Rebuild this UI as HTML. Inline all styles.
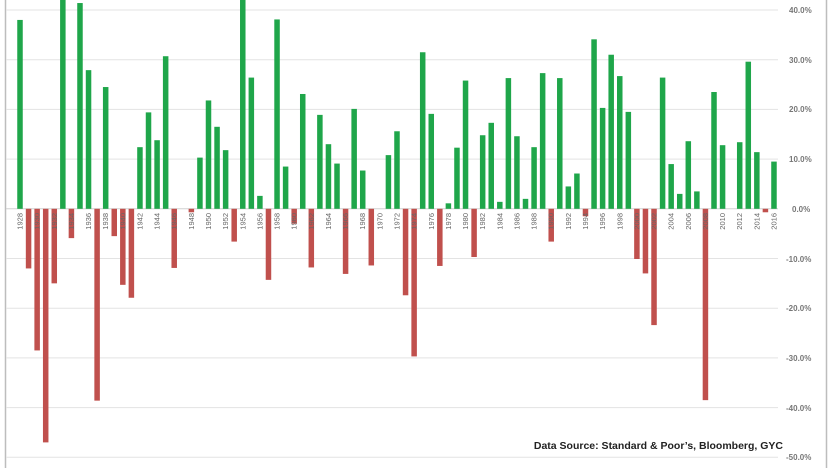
<!DOCTYPE html>
<html><head><style>
body{margin:0;background:#fff;}
svg{display:block;font-family:"Liberation Sans",sans-serif;}
</style></head><body>
<svg id="c" width="830" height="468" viewBox="0 0 830 468">
<rect x="5.5" y="-2" width="821" height="480" fill="#fff" stroke="#bdbdbd" stroke-width="1.5"/>
<g stroke="#e3e3e3" stroke-width="1">
<line x1="6" x2="778" y1="10" y2="10"/><line x1="6" x2="778" y1="59.7" y2="59.7"/>
<line x1="6" x2="778" y1="109.4" y2="109.4"/><line x1="6" x2="778" y1="159.1" y2="159.1"/>
<line x1="6" x2="778" y1="258.5" y2="258.5"/><line x1="6" x2="778" y1="308.2" y2="308.2"/>
<line x1="6" x2="778" y1="357.9" y2="357.9"/><line x1="6" x2="778" y1="407.6" y2="407.6"/>
<line x1="6" x2="778" y1="457.3" y2="457.3"/>
</g>
<line x1="6" x2="778" y1="208.8" y2="208.8" stroke="#d0d0d0"/>
<g id="bars"></g>
<g font-size="7.5" fill="#666" text-anchor="end">
<text transform="translate(22.5,213) rotate(-90)">1928</text>
<text transform="translate(39.6,213) rotate(-90)">1930</text>
<text transform="translate(56.8,213) rotate(-90)">1932</text>
<text transform="translate(73.9,213) rotate(-90)">1934</text>
<text transform="translate(91,213) rotate(-90)">1936</text>
<text transform="translate(108.2,213) rotate(-90)">1938</text>
<text transform="translate(125.3,213) rotate(-90)">1940</text>
<text transform="translate(142.5,213) rotate(-90)">1942</text>
<text transform="translate(159.6,213) rotate(-90)">1944</text>
<text transform="translate(176.7,213) rotate(-90)">1946</text>
<text transform="translate(193.9,213) rotate(-90)">1948</text>
<text transform="translate(211,213) rotate(-90)">1950</text>
<text transform="translate(228.1,213) rotate(-90)">1952</text>
<text transform="translate(245.3,213) rotate(-90)">1954</text>
<text transform="translate(262.4,213) rotate(-90)">1956</text>
<text transform="translate(279.5,213) rotate(-90)">1958</text>
<text transform="translate(296.7,213) rotate(-90)">1960</text>
<text transform="translate(313.8,213) rotate(-90)">1962</text>
<text transform="translate(330.9,213) rotate(-90)">1964</text>
<text transform="translate(348.1,213) rotate(-90)">1966</text>
<text transform="translate(365.2,213) rotate(-90)">1968</text>
<text transform="translate(382.4,213) rotate(-90)">1970</text>
<text transform="translate(399.5,213) rotate(-90)">1972</text>
<text transform="translate(416.6,213) rotate(-90)">1974</text>
<text transform="translate(433.8,213) rotate(-90)">1976</text>
<text transform="translate(450.9,213) rotate(-90)">1978</text>
<text transform="translate(468,213) rotate(-90)">1980</text>
<text transform="translate(485.2,213) rotate(-90)">1982</text>
<text transform="translate(502.3,213) rotate(-90)">1984</text>
<text transform="translate(519.5,213) rotate(-90)">1986</text>
<text transform="translate(536.6,213) rotate(-90)">1988</text>
<text transform="translate(553.7,213) rotate(-90)">1990</text>
<text transform="translate(570.9,213) rotate(-90)">1992</text>
<text transform="translate(588,213) rotate(-90)">1994</text>
<text transform="translate(605.1,213) rotate(-90)">1996</text>
<text transform="translate(622.3,213) rotate(-90)">1998</text>
<text transform="translate(639.4,213) rotate(-90)">2000</text>
<text transform="translate(656.6,213) rotate(-90)">2002</text>
<text transform="translate(673.7,213) rotate(-90)">2004</text>
<text transform="translate(690.8,213) rotate(-90)">2006</text>
<text transform="translate(708,213) rotate(-90)">2008</text>
<text transform="translate(725.1,213) rotate(-90)">2010</text>
<text transform="translate(742.2,213) rotate(-90)">2012</text>
<text transform="translate(759.4,213) rotate(-90)">2014</text>
<text transform="translate(776.5,213) rotate(-90)">2016</text>
</g>
<g font-size="8" font-weight="bold" fill="#777">
<text x="789" y="13">40.0%</text><text x="789" y="63">30.0%</text>
<text x="789" y="112">20.0%</text><text x="789" y="162">10.0%</text>
<text x="792" y="212">0.0%</text><text x="786" y="262">-10.0%</text>
<text x="786" y="311">-20.0%</text><text x="786" y="361">-30.0%</text>
<text x="786" y="411">-40.0%</text><text x="786" y="460">-50.0%</text>
</g>
<text x="783" y="449" text-anchor="end" font-size="10.5" font-weight="bold" fill="#222">Data Source: Standard &amp; Poor’s, Bloomberg, GYC</text>
</svg>
<script>
var d=[38,-12,-28.5,-47,-15,46.6,-5.9,41.4,27.9,-38.6,24.5,-5.5,-15.3,-17.9,12.4,19.4,13.8,30.7,-11.9,0,-0.7,10.3,21.8,16.5,11.8,-6.6,45,26.4,2.6,-14.3,38.1,8.5,-3,23.1,-11.8,18.9,13,9.1,-13.1,20.1,7.7,-11.4,0.1,10.8,15.6,-17.4,-29.7,31.5,19.1,-11.5,1.1,12.3,25.8,-9.7,14.8,17.3,1.4,26.3,14.6,2,12.4,27.3,-6.6,26.3,4.5,7.1,-1.5,34.1,20.3,31,26.7,19.5,-10.1,-13,-23.4,26.4,9,3,13.6,3.5,-38.5,23.5,12.8,0,13.4,29.6,11.4,-0.7,9.5];
var g=document.getElementById('bars'),s='',y0=208.8,k=4.97;
d.forEach(function(v,i){var x=20+8.568*i-2.75,h=Math.abs(v)*k;if(h<0.5)return;
var y=v>0?y0-h:y0;s+='<rect x="'+x.toFixed(2)+'" y="'+y.toFixed(2)+'" width="5.5" height="'+h.toFixed(2)+'" fill="'+(v>0?'#1fa64a':'#c0504d')+'"/>';});
g.innerHTML=s;
</script>
</body></html>
